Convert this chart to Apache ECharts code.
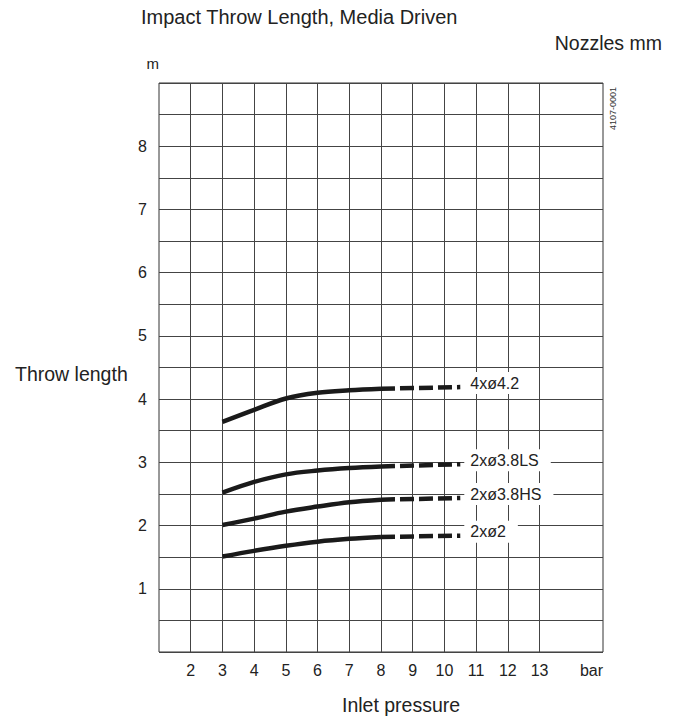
<!DOCTYPE html>
<html><head><meta charset="utf-8">
<script src="https://cdn.jsdelivr.net/npm/echarts@6/dist/echarts.min.js"></script>
<style>html,body{margin:0;padding:0;background:#fff}#c{width:678px;height:720px}</style>
</head><body><div id="c"></div>
<script>
const pressures = [3, 4, 5, 6, 7, 8];
const dashPressures = [8, 10.5];
const seriesNames = ['4xø4.2', '2xø3.8LS', '2xø3.8HS', '2xø2'];
const solid42 = [3.64, 3.83, 4.01, 4.10, 4.14, 4.165];
const solidLS = [2.52, 2.69, 2.81, 2.87, 2.91, 2.935];
const solidHS = [2.01, 2.11, 2.22, 2.30, 2.37, 2.41];
const solid2  = [1.51, 1.60, 1.68, 1.745, 1.79, 1.82];
const dashEnd = [4.19, 2.97, 2.435, 1.84];
const xTickLabels = [2, 3, 4, 5, 6, 7, 8, 9, 10, 11, 12, 13];
const yTickLabels = [1, 2, 3, 4, 5, 6, 7, 8];
const xGridLines = [2, 3, 4, 5, 6, 7, 8, 9, 10, 11, 12, 13];

const FONT = 'Liberation Sans';
const chart = echarts.init(document.getElementById('c'), null, {renderer: 'svg'});
const solids = [solid42, solidLS, solidHS, solid2];
const series = [];
series.push({
  type: 'line', data: [], z: 1, silent: true,
  markLine: {
    z: 1, silent: true, symbol: 'none', label: {show: false},
    lineStyle: {color: '#444', width: 1, type: 'solid'},
    emphasis: {disabled: true},
    data: xGridLines.map(v => ({xAxis: v}))
  }
});
solids.forEach((arr, i) => {
  series.push({
    type: 'line', z: 3, smooth: 0.35, showSymbol: false, symbol: 'none',
    lineStyle: {color: '#1a1a1a', width: 4.5, cap: 'butt'},
    data: pressures.map((p, k) => [p, arr[k]])
  });
  series.push({
    type: 'line', z: 4, showSymbol: false, symbol: 'none',
    lineStyle: {color: '#1a1a1a', width: 4.5, type: [14, 5], cap: 'butt'},
    data: [[dashPressures[0], arr[arr.length - 1]], [dashPressures[1], dashEnd[i]]],
    endLabel: {
      show: true, formatter: seriesNames[i], distance: 4, offset: [0, -4],
      backgroundColor: '#fff', padding: [3, 12, 3, 6],
      color: '#222', fontSize: 16, fontFamily: FONT
    }
  });
});

chart.setOption({
  animation: false,
  backgroundColor: '#fff',
  textStyle: {fontFamily: FONT},
  title: [
    {text: 'Impact Throw Length, Media Driven', left: 136, top: 2,
     textStyle: {fontSize: 20, fontWeight: 'normal', color: '#222', fontFamily: FONT}},
    {text: 'Nozzles mm', right: 11, top: 28,
     textStyle: {fontSize: 19.5, fontWeight: 'normal', color: '#222', fontFamily: FONT}},
    {text: 'Throw length', left: 10, top: 359,
     textStyle: {fontSize: 19.5, fontWeight: 'normal', color: '#222', fontFamily: FONT}},
    {text: 'Inlet pressure', left: 337, top: 690,
     textStyle: {fontSize: 19.5, fontWeight: 'normal', color: '#222', fontFamily: FONT}}
  ],
  graphic: [{
    type: 'text', x: 608, y: 130, rotation: Math.PI / 2,
    style: {text: '4107-0001', fontSize: 9, fill: '#333', fontFamily: FONT}
  }],
  grid: {left: 159, right: 75, top: 83, bottom: 68, show: true, borderColor: '#333', borderWidth: 1, backgroundColor: 'transparent'},
  xAxis: {
    type: 'value', min: 1, max: 15, interval: 1,
    axisLine: {show: false}, axisTick: {show: false}, splitLine: {show: false},
    axisLabel: {
      margin: 10, fontSize: 16, color: '#222', fontFamily: FONT,
      formatter: v => (xTickLabels.indexOf(v) >= 0 ? String(v) : '')
    },
    name: 'bar', nameLocation: 'end', nameGap: 0,
    nameTextStyle: {align: 'right', verticalAlign: 'top', padding: [10, 0, 0, 0], fontSize: 16, color: '#222', fontFamily: FONT}
  },
  yAxis: {
    type: 'value', min: 0, max: 9, interval: 0.5,
    axisLine: {show: false}, axisTick: {show: false},
    splitLine: {show: true, lineStyle: {color: '#444', width: 1}},
    axisLabel: {
      margin: 12, fontSize: 16, color: '#222', fontFamily: FONT,
      formatter: v => (yTickLabels.indexOf(v) >= 0 ? String(v) : '')
    },
    name: 'm', nameLocation: 'end', nameGap: 12,
    nameTextStyle: {align: 'right', fontSize: 15, color: '#222', fontFamily: FONT}
  },
  series: series
});
</script></body></html>
